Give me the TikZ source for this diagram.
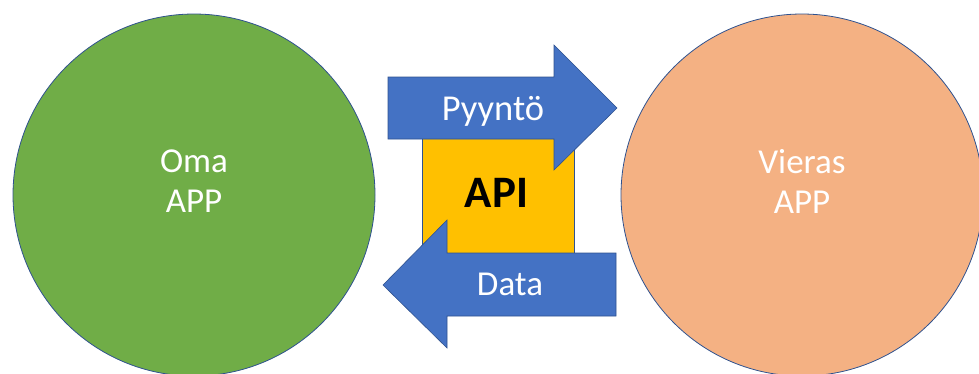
\documentclass[tikz,border=0pt]{standalone}
\usepackage{fontspec}
\setmainfont{Carlito}
\definecolor{appgreen}{HTML}{70AD47}
\definecolor{apporange}{HTML}{F4B183}
\definecolor{arrowblue}{HTML}{4472C4}
\definecolor{apiyellow}{HTML}{FFC000}
\definecolor{edgeblue}{HTML}{2F528F}
\tikzset{
  appcircle/.style={circle, draw=edgeblue, line width=0.8pt, minimum size=362pt, inner sep=0pt},
  apptext/.style={text=white, align=center, inner sep=0pt, font=\fontsize{35}{40}\selectfont},
  blockarrow/.style={fill=arrowblue, draw=edgeblue, line width=0.6pt},
  arrowtext/.style={text=white, anchor=base, inner sep=0pt, font=\fontsize{35}{40}\selectfont},
  apibox/.style={fill=apiyellow, draw=edgeblue, line width=0.6pt},
}
\begin{document}
\begin{tikzpicture}[x=1pt, y=-1pt]
\useasboundingbox (0,0) rectangle (979,373);
\begin{scope}
\clip (0,0) rectangle (979,373);
\node[appcircle, fill=appgreen] (oma) at (194,195) {};
\node[appcircle, fill=apporange] (vieras) at (802,195) {};
\end{scope}
\node[apptext] (omatext) at (194,181.5) {Oma\\APP};
\node[apptext] (vierastext) at (802,181.5) {Vieras\\APP};
% API box
\path[apibox] (422,100) rectangle (574,253);
\node[anchor=base, inner sep=0pt, font=\fontsize{45}{50}\selectfont\bfseries] (api) at (496.5,207.5) {API};
% request arrow
\path[blockarrow] (388,77) -- (554,77) -- (554,45) -- (617,108) -- (554,170) -- (554,139) -- (388,139) -- cycle;
\node[arrowtext, font=\fontsize{36.5}{40}\selectfont] (pyynto) at (493,120) {Pyyntö};
% data arrow
\path[blockarrow] (616,253) -- (447,253) -- (447,220) -- (383,285) -- (447,348) -- (447,316) -- (616,316) -- cycle;
\node[arrowtext] (data) at (510,295) {Data};
\end{tikzpicture}
\end{document}
